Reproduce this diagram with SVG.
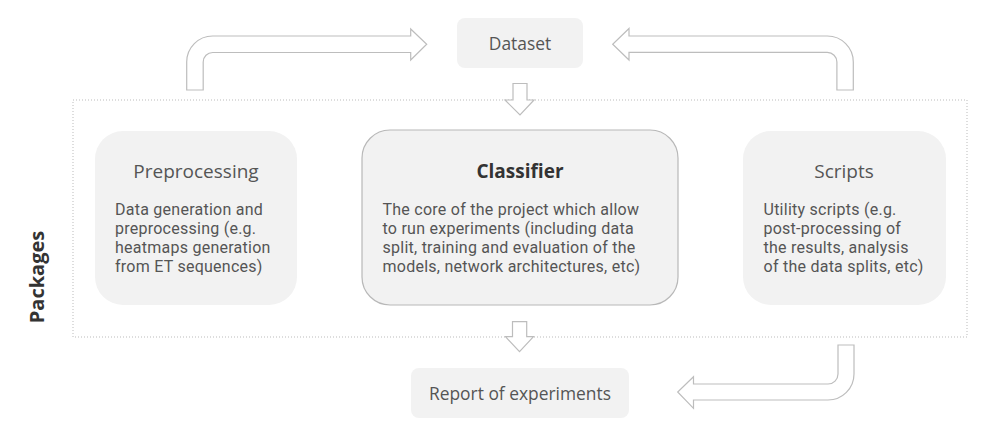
<svg xmlns="http://www.w3.org/2000/svg" width="994" height="437" viewBox="0 0 994 437">
<style>
.box{fill:#f2f2f2}
.cbox{fill:#f2f2f2;stroke:#b8b8b8;stroke-width:1.2}
.arrow{fill:#fff;stroke:#bdbdbd;stroke-width:1.2;stroke-linejoin:miter}
.title{font-family:"Open Sans","Noto Sans",sans-serif;font-size:19px;fill:#555;text-anchor:middle}
.btitle{font-family:"Open Sans","Noto Sans",sans-serif;font-size:19px;font-weight:bold;fill:#333;text-anchor:middle}
.small{font-family:"Open Sans","Noto Sans",sans-serif;font-size:17.4px;fill:#555;text-anchor:middle}
.body{font-family:Roboto,"Liberation Sans",sans-serif;font-size:16px;letter-spacing:0.25px;fill:#555}
</style>
<rect x="0" y="0" width="994" height="437" fill="#fff"/>
<g id="packages">
<rect x="73" y="100" width="894" height="237" fill="none" stroke="#bbb" stroke-width="1" stroke-dasharray="1,2"/>
<text x="36" y="277" transform="rotate(-90 36 277)" font-family="'Open Sans','Noto Sans',sans-serif" font-size="20" font-weight="bold" fill="#333" text-anchor="middle" dominant-baseline="central">Packages</text>
</g>
<g id="connectors">
<path class="arrow" d="M186.7,90 L186.7,62 A26,26 0 0 1 212.7,36 L410.7,36 L410.7,29 L426.7,44.3 L410.7,60 L410.7,52.5 L212.7,52.5 A9.5,9.5 0 0 0 203.2,62 L203.2,90 Z"/>
<path class="arrow" d="M853.3,90 L853.3,62 A26,26 0 0 0 827.3,36 L629,36 L629,28.5 L612.7,44.2 L629,60 L629,52.4 L827.3,52.4 A9.6,9.6 0 0 1 836.9,62 L836.9,90 Z"/>
<path class="arrow" d="M513,83.5 L527,83.5 L527,100 L534,100 L520,115 L505,100 L513,100 Z"/>
<path class="arrow" d="M512.5,321.7 L526.7,321.7 L526.7,336.7 L533.5,336.7 L519.5,351.7 L505.5,336.7 L512.5,336.7 Z"/>
<path class="arrow" d="M854,345 L854,374 A26,26 0 0 1 828,400 L693.5,400 L693.5,408.3 L677.7,392 L693.5,376.7 L693.5,384 L828,384 A10,10 0 0 0 838,374 L838,345 Z"/>
</g>
<g id="dataset">
<rect class="box" x="457" y="18" width="126" height="50" rx="8"/>
<text class="small" x="520" y="50">Dataset</text>
</g>
<g id="preprocessing">
<rect class="box" x="95" y="131" width="202" height="174" rx="28"/>
<text class="title" x="196" y="178">Preprocessing</text>
<text class="body" x="115" y="215">Data generation and</text>
<text class="body" x="115" y="234">preprocessing (e.g.</text>
<text class="body" x="115" y="253">heatmaps generation</text>
<text class="body" x="115" y="272">from ET sequences)</text>
</g>
<g id="classifier">
<rect class="cbox" x="362" y="130" width="316" height="175" rx="28"/>
<text class="btitle" x="520" y="178">Classifier</text>
<text class="body" x="382.5" y="215">The core of the project which allow</text>
<text class="body" x="382.5" y="234">to run experiments (including data</text>
<text class="body" x="382.5" y="253">split, training and evaluation of the</text>
<text class="body" x="382.5" y="272">models, network architectures, etc)</text>
</g>
<g id="scripts">
<rect class="box" x="743" y="131" width="203" height="174" rx="28"/>
<text class="title" x="844" y="178">Scripts</text>
<text class="body" x="763.5" y="215">Utility scripts (e.g.</text>
<text class="body" x="763.5" y="234">post-processing of</text>
<text class="body" x="763.5" y="253">the results, analysis</text>
<text class="body" x="763.5" y="272">of the data splits, etc)</text>
</g>
<g id="report">
<rect class="box" x="411" y="368" width="218" height="50" rx="8"/>
<text class="small" x="520" y="400">Report of experiments</text>
</g>
</svg>
